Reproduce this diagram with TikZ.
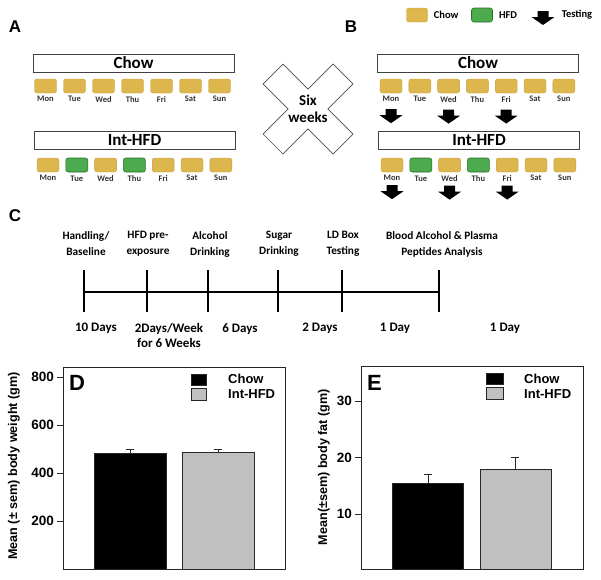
\documentclass[tikz,border=0pt]{standalone}
\usepackage{fontspec}
\setmainfont{Carlito}
\newfontfamily\arialfont{Liberation Sans}
\usetikzlibrary{positioning}
\definecolor{chowgold}{RGB}{221,183,77}
\definecolor{chowedge}{RGB}{196,158,58}
\definecolor{hfdgreen}{RGB}{78,170,78}
\definecolor{hfdedge}{RGB}{38,112,38}
\definecolor{bargrey}{RGB}{192,192,192}
\tikzset{
  daybox/.style={rounded corners=2.5pt, minimum width=22pt, minimum height=14pt, inner sep=0pt},
  chow/.style={daybox, fill=chowgold, draw=chowedge, line width=0.4pt},
  hfd/.style={daybox, fill=hfdgreen, draw=hfdedge, line width=0.6pt},
  daylbl/.style={font=\bfseries\fontsize{8.5}{9}\selectfont, text=black!80, inner sep=0pt},
  groupbox/.style={draw=black!75, line width=0.7pt, minimum width=201pt, minimum height=18pt,
    inner sep=0pt, font=\bfseries\fontsize{17}{17}\selectfont},
  panel/.style={font=\arialfont\bfseries\fontsize{17}{18}\selectfont, inner sep=0pt},
  testarrow/.pic={\fill[black] (-5.5,0) -- (5.5,0) -- (5.5,6) -- (11.5,6) -- (0,14) -- (-11.5,6) -- (-5.5,6) -- cycle;},
}
\begin{document}
\begin{tikzpicture}[x=1pt, y=-1pt,
  stage/.style={font=\bfseries\fontsize{11.3}{16}\selectfont, align=center, inner sep=0pt, anchor=north},
  dur/.style={font=\bfseries\fontsize{13}{15}\selectfont, align=center, inner sep=0pt, anchor=north},
  axlbl/.style={font=\arialfont\bfseries\fontsize{12.6}{14}\selectfont, inner sep=0pt},
  ticklbl/.style={font=\arialfont\bfseries\fontsize{13.5}{14}\selectfont, inner sep=0pt, anchor=east},
  legtxt/.style={font=\arialfont\bfseries\fontsize{13}{14}\selectfont, inner sep=0pt, anchor=west},
  bigletter/.style={font=\arialfont\bfseries\fontsize{22}{22}\selectfont, inner sep=0pt, anchor=west},
  frame/.style={draw=black!85, line width=0.9pt},
  bar/.style={draw=black!85, line width=0.7pt},
  errbar/.style={draw=black!85, line width=0.9pt}
]
\useasboundingbox (0,0) rectangle (601,579);

% panel letters
\node[panel] (pA) at (15,27) {A};
\node[panel] (pB) at (351,27) {B};
\node[panel] (pC) at (15,216) {C};

% legend
\node[chow, minimum width=21pt] (legchow) at (417,15) {};
\node[font=\bfseries\fontsize{10.5}{12}\selectfont, right=6pt of legchow, inner sep=0pt] (legchowt) {Chow};
\node[hfd, minimum width=21pt] (leghfd) at (482,15) {};
\node[font=\bfseries\fontsize{10.5}{12}\selectfont, right=6pt of leghfd, inner sep=0pt] (leghfdt) {HFD};
\pic (legarr) at (543,11) {testarrow};
\node[font=\bfseries\fontsize{10.5}{12}\selectfont, inner sep=0pt] (legtest) at (577,15) {Testing};

% A: before
\node[groupbox] (aChow) at (133.5,63) {Chow};
\foreach \d [count=\i from 0] in {Mon,Tue,Wed,Thu,Fri,Sat,Sun} {
  \node[chow] (ac\i) at ({45.5+29*\i},86) {};
  \node[daylbl, below=3pt of ac\i] (acl\i) {\d};
}
\node[groupbox] (aHfd) at (134.5,140) {Int-HFD};
\foreach \d/\s [count=\i from 0] in {Mon/chow,Tue/hfd,Wed/chow,Thu/hfd,Fri/chow,Sat/chow,Sun/chow} {
  \node[\s] (ah\i) at ({48+28.8*\i},165) {};
  \node[daylbl, below=3pt of ah\i] (ahl\i) {\d};
}

% six weeks cross
\node[font=\bfseries\fontsize{15}{17}\selectfont, align=center, inner sep=0pt] (six) at (308,109) {Six\\weeks};
\draw[black!70, line width=0.7pt, shift={(six.center)}, rotate=45]
  (14,14) -- (49.5,14) -- (49.5,-14) -- (14,-14) -- (14,-49.5) -- (-14,-49.5) -- (-14,-14)
  -- (-49.5,-14) -- (-49.5,14) -- (-14,14) -- (-14,49.5) -- (14,49.5) -- cycle;

% B: after, with testing days
\node[groupbox] (bChow) at (478,63) {Chow};
\foreach \d [count=\i from 0] in {Mon,Tue,Wed,Thu,Fri,Sat,Sun} {
  \node[chow] (bc\i) at ({391+28.8*\i},86) {};
  \node[daylbl, below=3pt of bc\i] (bcl\i) {\d};
}
\node[groupbox] (bHfd) at (479,140) {Int-HFD};
\foreach \d/\s [count=\i from 0] in {Mon/chow,Tue/hfd,Wed/chow,Thu/hfd,Fri/chow,Sat/chow,Sun/chow} {
  \node[\s] (bh\i) at ({392+28.8*\i},165) {};
  \node[daylbl, below=3pt of bh\i] (bhl\i) {\d};
}
\foreach \i in {0,2,4} {
  \pic (bca\i) at ([yshift=-7pt]bcl\i.south) {testarrow};
  \pic (bha\i) at ([yshift=-4pt]bhl\i.south) {testarrow};
}

% C: timeline
\foreach \x [count=\i] in {84,147,208,278,342,439}
  \coordinate (tk\i) at (\x,292);
\draw[line width=1.1pt] (tk1) -- (tk6);
\foreach \i in {1,...,6}
  \draw[line width=1.1pt] ([yshift=22pt]tk\i) -- ([yshift=-20pt]tk\i);
\node[stage] (st1) at (86,231) {Handling/\\Baseline};
\node[stage] (st2) at (148,231) {HFD pre-\\exposure};
\node[stage] (st3) at (210,231) {Alcohol\\Drinking};
\node[stage] (st4) at (279,231) {Sugar\\Drinking};
\node[stage] (st5) at (343,231) {LD Box\\Testing};
\node[stage] (st6) at (442,231) {Blood Alcohol \& Plasma\\Peptides Analysis};
\node[dur] (du1) at (96,323) {10 Days};
\node[dur] (du2) at (169,323) {2Days/Week\\for 6 Weeks};
\node[dur] (du3) at (240,323) {6 Days};
\node[dur] (du4) at (320,323) {2 Days};
\node[dur] (du5) at (395,323) {1 Day};
\node[dur] (du6) at (505,323) {1 Day};

% D: body weight
\draw[frame] (63,367) rectangle (285,569);
\foreach \v in {200,400,600,800} {
  \draw[frame] (57,{569-0.24*\v}) -- (63,{569-0.24*\v});
  \node[ticklbl] (dy\v) at (54,{569-0.24*\v}) {\v};
}
\node[axlbl, rotate=90] (dylab) at (14,466) {Mean (± sem) body weight (gm)};
\draw[bar, fill=black] (94,453) rectangle (166,569);
\draw[bar, fill=bargrey] (182,452) rectangle (254,569);
\draw[errbar] (130,453) -- (130,449) (126,449) -- (134,449);
\draw[errbar] (218,452) -- (218,449) (214,449) -- (222,449);
\node[bigletter] (pD) at (69,383) {D};
\draw[bar, fill=black] (191,374) rectangle (206,385);
\draw[bar, fill=bargrey] (191,388) rectangle (206,400);
\node[legtxt] (dl1) at (228,379) {Chow};
\node[legtxt] (dl2) at (228,394) {Int-HFD};

% E: body fat
\draw[frame] (361,366) rectangle (583,569);
\foreach \v in {10,20,30} {
  \draw[frame] (355,{570.5-5.65*\v}) -- (361,{570.5-5.65*\v});
  \node[ticklbl] (ey\v) at (352,{570.5-5.65*\v}) {\v};
}
\node[axlbl, rotate=90] (eylab) at (324,467) {Mean(±sem) body fat (gm)};
\draw[bar, fill=black] (392,483) rectangle (463,569);
\draw[bar, fill=bargrey] (480,469) rectangle (551,569);
\draw[errbar] (428,483) -- (428,474) (424,474) -- (432,474);
\draw[errbar] (515,469) -- (515,457) (511,457) -- (519,457);
\node[bigletter] (pE) at (367,383) {E};
\draw[bar, fill=black] (486,373) rectangle (503,384);
\draw[bar, fill=bargrey] (486,387) rectangle (503,399);
\node[legtxt] (el1) at (524,379) {Chow};
\node[legtxt] (el2) at (524,394) {Int-HFD};
\end{tikzpicture}
\end{document}
